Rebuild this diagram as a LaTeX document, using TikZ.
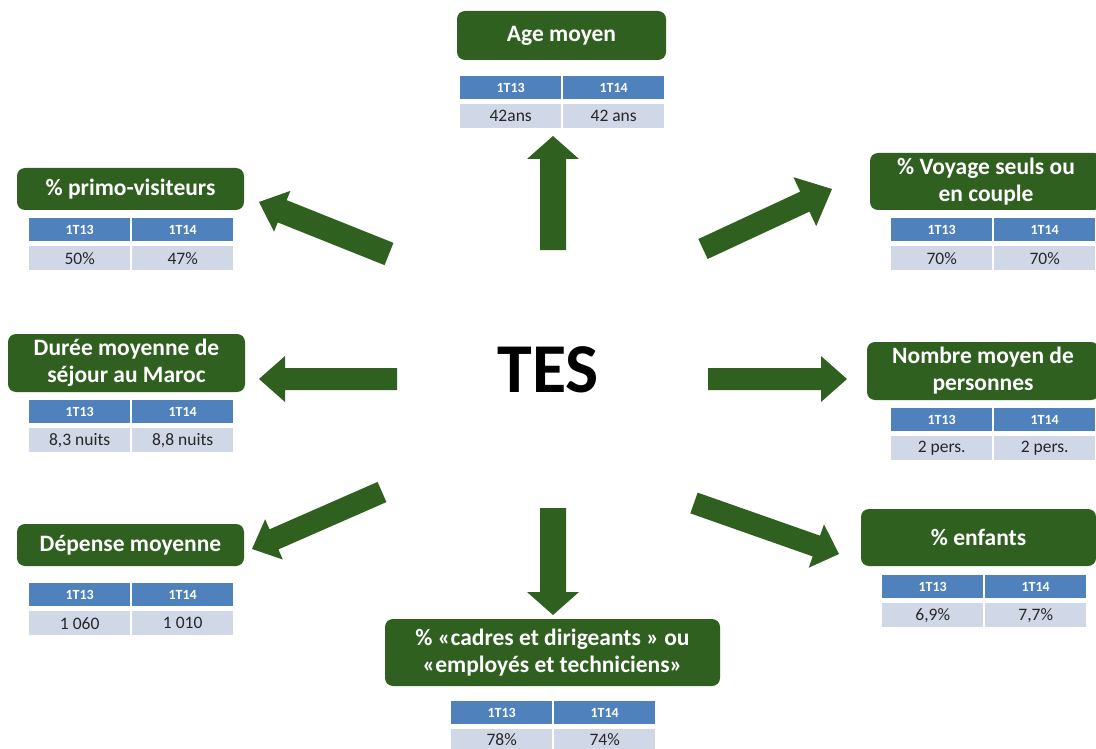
\documentclass[tikz,border=0pt]{standalone}
\usepackage{fontspec}
\setmainfont{Carlito}
\usetikzlibrary{calc}
\definecolor{tgreen}{RGB}{47,96,31}
\definecolor{hblue}{RGB}{79,129,189}
\definecolor{dgray}{RGB}{208,216,232}
\definecolor{dtext}{RGB}{38,38,38}
% #1 tail coord, #2 tip coord, #3 shaft half width, #4 head half width, #5 head length
\newcommand\blockarrow[5]{%
  \coordinate (B) at ($(#2)!#5pt!(#1)$);
  \fill[tgreen] ($(#1)!#3pt!90:(#2)$) -- ($(B)!#3pt!90:(#2)$) -- ($(B)!#4pt!90:(#2)$)
    -- (#2) -- ($(B)!#4pt!-90:(#2)$) -- ($(B)!#3pt!-90:(#2)$) -- ($(#1)!#3pt!-90:(#2)$) -- cycle;
}
% #1 name, #2 left x, #3 top y, #4 value 1T13, #5 value 1T14, #6 data row height
\newcommand\statgrid[6]{%
  \node[hcell] (#1h1) at (#2,#3) {1T13};
  \node[hcell] (#1h2) at ({#2+103},#3) {1T14};
  \node[dcell, minimum height=#6pt] (#1d1) at (#2,{#3+28}) {#4};
  \node[dcell, minimum height=#6pt] (#1d2) at ({#2+103},{#3+28}) {#5};
}
\begin{document}
\begin{tikzpicture}[x=1pt,y=-1pt,
  titlebox/.style={fill=tgreen, rounded corners=8pt, text=white,
    font=\fontsize{23.5}{27}\selectfont\bfseries, align=center, inner sep=0pt},
  hcell/.style={fill=hblue, text=white, font=\fontsize{14}{16}\selectfont\bfseries,
    minimum width=101pt, minimum height=23pt, inner sep=0pt, anchor=north west},
  dcell/.style={fill=dgray, text=dtext, font=\fontsize{17.5}{19}\selectfont,
    minimum width=101pt, minimum height=24pt, inner sep=0pt, anchor=north west}]
\useasboundingbox (0,0) rectangle (1096,749);

% centre
\node[font=\fontsize{70}{76}\selectfont\bfseries] (tes) at (548,370) {TES};

% title boxes
\node[titlebox, minimum width=209pt, minimum height=49pt] (age) at (561.5,35.5) {Age moyen};
\node[titlebox, minimum width=227pt, minimum height=42pt] (primo) at (130.5,189) {\% primo-visiteurs};
\node[titlebox, minimum width=232pt, minimum height=57pt] (voyage) at (986,181.5) {\% Voyage seuls ou\\en couple};
\node[titlebox, minimum width=237pt, minimum height=58pt] (duree) at (126.5,363) {Durée moyenne de\\séjour au Maroc};
\node[titlebox, minimum width=232pt, minimum height=58pt] (nombre) at (983,371) {Nombre moyen de\\personnes};
\node[titlebox, minimum width=227pt, minimum height=42pt] (depense) at (130.5,545) {Dépense moyenne};
\node[titlebox, minimum width=235pt, minimum height=57pt] (enfants) at (978.5,537.5) {\% enfants};
\node[titlebox, minimum width=335pt, minimum height=67pt] (cadres) at (552.5,652.5) {\% «cadres et dirigeants » ou\\«employés et techniciens»};

% tables
\statgrid{age}{460}{76}{42ans}{42 ans}{24}
\statgrid{primo}{29}{218}{50\%}{47\%}{24}
\statgrid{voyage}{891}{218}{70\%}{70\%}{24}
\statgrid{duree}{29}{400}{8,3 nuits}{8,8 nuits}{24}
\statgrid{nombre}{891}{408}{2 pers.}{2 pers.}{24}
\statgrid{depense}{29}{583}{1 060}{1 010}{24}
\statgrid{enfants}{882}{575}{6,9\%}{7,7\%}{24}
\statgrid{cadres}{451}{701}{78\%}{74\%}{20}

% arrows
\coordinate (upT) at (553,250);   \coordinate (upP) at (553,136);
\coordinate (dnT) at (553,508);   \coordinate (dnP) at (553,615);
\coordinate (lfT) at (397,379);   \coordinate (lfP) at (259,379);
\coordinate (rtT) at (708,379);   \coordinate (rtP) at (847,379);
\coordinate (ulT) at (389,254);   \coordinate (ulP) at (259,202);
\coordinate (urT) at (703,249);   \coordinate (urP) at (832,189);
\coordinate (llT) at (382,492);   \coordinate (llP) at (252,549);
\coordinate (lrT) at (694,503);   \coordinate (lrP) at (839,554);
\blockarrow{upT}{upP}{13}{26}{23}
\blockarrow{dnT}{dnP}{13}{26}{23}
\blockarrow{lfT}{lfP}{11}{23}{26}
\blockarrow{rtT}{rtP}{11}{23}{26}
\blockarrow{ulT}{ulP}{12}{22}{25}
\blockarrow{urT}{urP}{11}{27}{30}
\blockarrow{llT}{llP}{11}{22}{24}
\blockarrow{lrT}{lrP}{11}{23}{24}
\end{tikzpicture}
\end{document}
